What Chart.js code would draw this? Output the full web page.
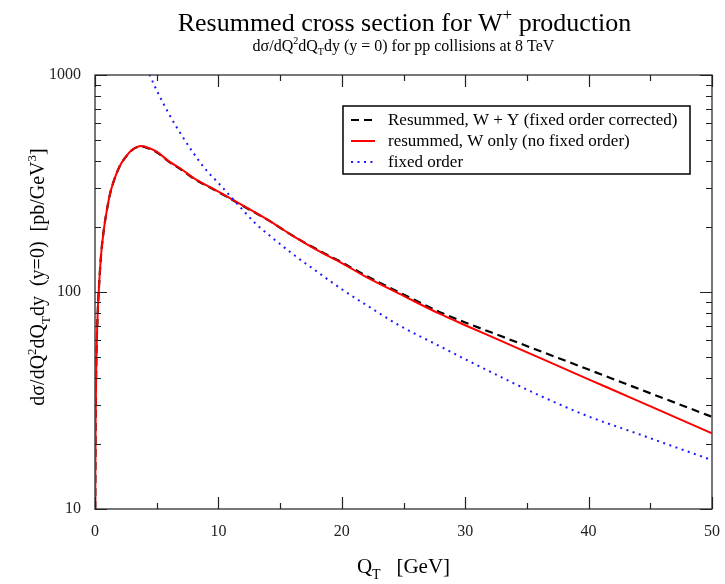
<!DOCTYPE html>
<html lang="en">
<head>
<meta charset="UTF-8">
<title>Resummed cross section for W+ production</title>
<style>
    body { margin: 0; background: #fff; }
    #chart { display: block; }
</style>
</head>
<body>
<canvas id="chart" width="725" height="584"></canvas>
<script src="https://cdn.jsdelivr.net/npm/chart.js@4.4.0/dist/chart.umd.min.js"></script>
<script>
// Q_T grid (GeV) for the two resummed curves
const qtResummed = [0.02, 0.05, 0.1, 0.2, 0.3, 0.5, 0.75, 1, 1.25, 1.5, 2, 2.5, 3, 3.5, 3.7, 4, 5, 6, 7, 8,
                    10, 12, 14, 16, 18, 20, 22, 25, 28, 30, 33, 36, 40, 44, 47, 50];
// Resummed, W + Y (fixed order corrected)
const resummedWY = [10, 25, 45, 75, 100, 150, 200, 245, 288, 322, 380, 420, 451, 467, 470, 466, 440, 398, 366, 333,
                    289, 249, 215, 182, 157, 137, 118.5, 97.5, 80.5, 72.4, 62.3, 53.6, 43.9, 35.9, 30.9, 26.6];
// resummed, W only (no fixed order)
const resummedW = [10, 25, 45, 75, 100, 150, 200, 245, 288, 322, 380, 420, 452, 468, 471, 468, 443, 400, 368, 335,
                   290, 250, 215, 182, 156, 136, 117, 96, 79, 70.3, 59.2, 49.8, 39.6, 31.5, 26.5, 22.3];
// fixed order
const qtFixed = [3.5, 4, 4.43, 5, 6, 7, 8, 9, 10, 11, 12, 13, 14, 16, 18, 20, 22, 24.5, 28, 30, 33, 36, 40, 44, 47, 50];
const fixedOrder = [1390, 1150, 1000, 850, 660, 530, 435, 365, 318, 275, 238, 207, 185, 150, 124, 103, 87, 71, 56, 49,
                    40.3, 33.4, 26.7, 22.2, 19.3, 16.8];

const xMajorTicks = [0, 10, 20, 30, 40, 50];
const xMinorTicks = [5, 15, 25, 35, 45];
const yMajorTicks = [10, 100, 1000];
const yMinorTicks = [20, 30, 40, 50, 60, 70, 80, 90, 200, 300, 400, 500, 600, 700, 800, 900];

const SERIF = "'Liberation Serif', 'DejaVu Serif', serif";

function toPoints(xs, ys) {
    return xs.map((x, i) => ({ x: x, y: ys[i] }));
}

// draws text made of pieces: [text, 'sup' | 'sub' | '']
function drawRich(ctx, parts, x, y, size, align) {
    const fontOf = p => (p[1] ? Math.round(size * 0.65) : size) + 'px ' + SERIF;
    let total = 0;
    parts.forEach(p => { ctx.font = fontOf(p); total += ctx.measureText(p[0]).width; });
    let cx = align === 'center' ? x - total / 2 : x;
    ctx.textAlign = 'left';
    ctx.textBaseline = 'alphabetic';
    parts.forEach(p => {
        ctx.font = fontOf(p);
        let dy = 0;
        if (p[1] === 'sup') dy = -size * 0.42;
        if (p[1] === 'sub') dy = size * 0.28;
        ctx.fillText(p[0], cx, y + dy);
        cx += ctx.measureText(p[0]).width;
    });
}

const decorPlugin = {
    id: 'decor',
    afterDatasetsDraw(chart) {
        const { ctx, chartArea: a, scales: { x, y } } = chart;
        ctx.save();

        // frame
        ctx.strokeStyle = '#4a4a4a';
        ctx.lineWidth = 1.5;
        ctx.strokeRect(a.left, a.top, a.right - a.left, a.bottom - a.top);

        // inward ticks on all four sides
        ctx.strokeStyle = '#222';
        ctx.lineWidth = 1.2;
        ctx.beginPath();
        const xt = (v, len) => {
            const px = Math.round(x.getPixelForValue(v)) + 0.5;
            ctx.moveTo(px, a.bottom); ctx.lineTo(px, a.bottom - len);
            ctx.moveTo(px, a.top); ctx.lineTo(px, a.top + len);
        };
        const yt = (v, len) => {
            const py = Math.round(y.getPixelForValue(v)) + 0.5;
            ctx.moveTo(a.left, py); ctx.lineTo(a.left + len, py);
            ctx.moveTo(a.right, py); ctx.lineTo(a.right - len, py);
        };
        xMajorTicks.forEach(v => xt(v, 12));
        xMinorTicks.forEach(v => xt(v, 6));
        yMajorTicks.forEach(v => yt(v, 12));
        yMinorTicks.forEach(v => yt(v, 6));
        ctx.stroke();

        // legend
        const lx = 343, ly = 106, lw = 347, lh = 68;
        ctx.fillStyle = '#fff';
        ctx.fillRect(lx, ly, lw, lh);
        ctx.strokeStyle = '#000';
        ctx.lineWidth = 1.5;
        ctx.strokeRect(lx, ly, lw, lh);
        const rows = [120, 141, 162];
        chart.data.datasets.forEach(ds => {
            const ry = rows[ds.legendRow];
            ctx.strokeStyle = ds.borderColor;
            ctx.lineWidth = ds.borderWidth;
            ctx.setLineDash(ds.borderDash || []);
            ctx.beginPath();
            ctx.moveTo(351, ry); ctx.lineTo(375, ry);
            ctx.stroke();
            ctx.setLineDash([]);
            ctx.fillStyle = '#000';
            ctx.font = '17px ' + SERIF;
            ctx.textAlign = 'left';
            ctx.textBaseline = 'middle';
            ctx.fillText(ds.label, 388, ry + 1);
        });

        // titles and axis labels
        ctx.fillStyle = '#000';
        const cx = (a.left + a.right) / 2;
        drawRich(ctx, [['Resummed cross section for W', ''], ['+', 'sup'], [' production', '']], cx + 1, 31, 26, 'center');
        drawRich(ctx, [['dσ/dQ', ''], ['2', 'sup'], ['dQ', ''], ['T', 'sub'], ['dy (y = 0) for pp collisions at 8 TeV', '']],
                 cx, 51, 16, 'center');
        drawRich(ctx, [['Q', ''], ['T', 'sub'], ['   [GeV]', '']], cx, 573, 21, 'center');

        ctx.save();
        ctx.translate(44, 277);
        ctx.rotate(-Math.PI / 2);
        drawRich(ctx, [['dσ/dQ', ''], ['2', 'sup'], ['dQ', ''], ['T', 'sub'], ['dy  (y=0)  [pb/GeV', ''], ['3', 'sup'], [']', '']],
                 0, 0, 20, 'center');
        ctx.restore();

        ctx.restore();
    }
};

Chart.defaults.font.family = SERIF;

new Chart(document.getElementById('chart'), {
    type: 'line',
    data: {
        datasets: [
            {
                label: 'Resummed, W + Y (fixed order corrected)',
                data: toPoints(qtResummed, resummedWY),
                borderColor: '#000000',
                borderWidth: 2.2,
                borderDash: [8, 5],
                order: 2,
                legendRow: 0
            },
            {
                label: 'resummed, W only (no fixed order)',
                data: toPoints(qtResummed, resummedW),
                borderColor: '#ff0000',
                borderWidth: 2,
                order: 1,
                legendRow: 1
            },
            {
                label: 'fixed order',
                data: toPoints(qtFixed, fixedOrder),
                borderColor: '#1a1aff',
                borderWidth: 2,
                borderDash: [2, 4.5],
                order: 0,
                legendRow: 2
            }
        ]
    },
    options: {
        responsive: false,
        animation: false,
        events: [],
        elements: {
            point: { radius: 0 },
            line: { cubicInterpolationMode: 'monotone', fill: false }
        },
        layout: { padding: { top: 75, right: 9, left: 0, bottom: 0 } },
        plugins: {
            legend: { display: false },
            title: { display: false },
            tooltip: { enabled: false }
        },
        scales: {
            x: {
                type: 'linear',
                min: 0,
                max: 50,
                grid: { display: false },
                border: { display: false },
                afterBuildTicks: s => { s.ticks = xMajorTicks.map(v => ({ value: v })); },
                afterFit: s => { s.height = 75; },
                ticks: { color: '#222', font: { size: 16 }, padding: 5, maxRotation: 0 }
            },
            y: {
                type: 'logarithmic',
                min: 10,
                max: 1000,
                grid: { display: false },
                border: { display: false },
                afterBuildTicks: s => { s.ticks = yMajorTicks.map(v => ({ value: v })); },
                afterFit: s => { s.width = 95; },
                ticks: { color: '#222', font: { size: 16 }, padding: 6, callback: v => String(v) }
            }
        }
    },
    plugins: [decorPlugin]
});
</script>
</body>
</html>
